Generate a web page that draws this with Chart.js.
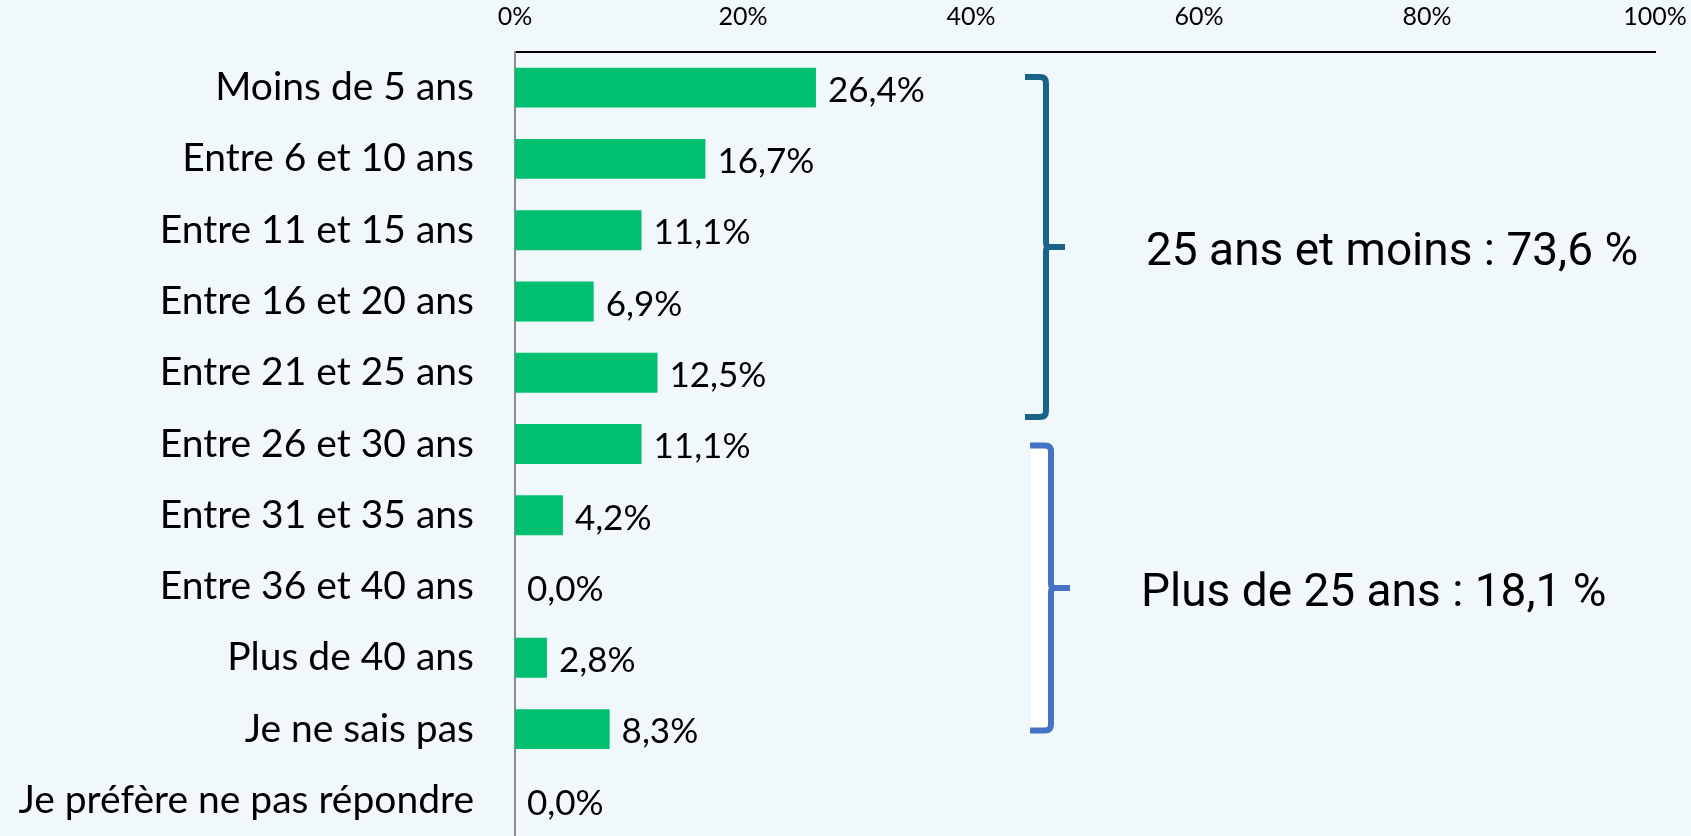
<!DOCTYPE html>
<html lang="fr">
<head>
<meta charset="utf-8">
<title>Ancienneté</title>
<script src="https://cdn.jsdelivr.net/npm/chart.js"></script>
<style>
    html, body { margin: 0; padding: 0; background: #F1F8FC; overflow: hidden; }
    #wrap { width: 1691px; height: 836px; position: relative; }
</style>
</head>
<body>
<div id="wrap"><canvas id="ageChart"></canvas></div>

<script>
    // data
    const categories = ['Moins de 5 ans', 'Entre 6 et 10 ans', 'Entre 11 et 15 ans', 'Entre 16 et 20 ans',
        'Entre 21 et 25 ans', 'Entre 26 et 30 ans', 'Entre 31 et 35 ans', 'Entre 36 et 40 ans',
        'Plus de 40 ans', 'Je ne sais pas', 'Je préfère ne pas répondre'];
    const percents = [26.4, 16.7, 11.1, 6.9, 12.5, 11.1, 4.2, 0.0, 2.8, 8.3, 0.0];
    const xTicks = [0, 20, 40, 60, 80, 100];

    // bracket groups (first and last category index + label)
    const groupLabels = ['25 ans et moins : 73,6 %', 'Plus de 25 ans : 18,1 %'];
    const groupFirst = [0, 5];
    const groupLast = [4, 9];

    const fmt = v => v.toFixed(1).replace('.', ',') + '%';

    // value labels right of the bars
    const valueLabels = {
        id: 'valueLabels',
        afterDatasetsDraw(chart) {
            const ctx = chart.ctx;
            const meta = chart.getDatasetMeta(0);
            ctx.save();
            ctx.font = '35px Lato';
            ctx.fillStyle = '#000';
            ctx.textBaseline = 'middle';
            meta.data.forEach((bar, i) => {
                ctx.fillText(fmt(percents[i]), bar.x + 12, bar.y + 3);
            });
            ctx.restore();
        }
    };

    // curly brackets + group texts
    const brackets = {
        id: 'brackets',
        afterDraw(chart) {
            const ctx = chart.ctx;
            const y = chart.scales.y;
            const s = y.getPixelForValue(1) - y.getPixelForValue(0);
            const styles = [
                { color: '#1A6388', x: 1046, top: -0.15, bottom: 0.62, fill: null, textX: 1146 },
                { color: '#4472C4', x: 1051, top: 0.02, bottom: 0.02, fill: '#FFFFFF', textX: 1141 }
            ];
            groupLabels.forEach((label, g) => {
                const st = styles[g];
                const top = y.getPixelForValue(groupFirst[g]) + st.top * s;
                const bottom = y.getPixelForValue(groupLast[g]) + st.bottom * s;
                const mid = (top + bottom) / 2;
                const x = st.x;
                ctx.save();
                if (st.fill) {
                    ctx.fillStyle = st.fill;
                    ctx.fillRect(x - 20, top, 20, bottom - top);
                }
                ctx.strokeStyle = st.color;
                ctx.lineWidth = 6;
                ctx.lineCap = 'butt';
                ctx.beginPath();
                ctx.moveTo(x - 21, top);
                ctx.lineTo(x - 6, top);
                ctx.quadraticCurveTo(x, top, x, top + 6);
                ctx.lineTo(x, mid - 4);
                ctx.quadraticCurveTo(x, mid, x + 4, mid);
                ctx.lineTo(x + 19, mid);
                ctx.moveTo(x + 4, mid);
                ctx.quadraticCurveTo(x, mid, x, mid + 4);
                ctx.lineTo(x, bottom - 6);
                ctx.quadraticCurveTo(x, bottom, x - 6, bottom);
                ctx.lineTo(x - 21, bottom);
                ctx.stroke();

                ctx.fillStyle = '#000';
                ctx.font = '46px Roboto';
                ctx.textBaseline = 'middle';
                ctx.fillText(label, st.textX, mid + 7);
                ctx.restore();
            });
        }
    };

    new Chart(document.getElementById('ageChart'), {
        type: 'bar',
        data: {
            labels: categories,
            datasets: [{
                data: percents,
                backgroundColor: '#00C070',
                borderWidth: 0,
                barPercentage: 0.56,
                categoryPercentage: 1.0
            }]
        },
        options: {
            indexAxis: 'y',
            animation: false,
            responsive: true,
            maintainAspectRatio: false,
            layout: { padding: { left: 0, right: 36, top: 0, bottom: 0 } },
            plugins: {
                legend: { display: false },
                tooltip: { enabled: false }
            },
            scales: {
                x: {
                    position: 'top',
                    min: 0,
                    max: 100,
                    afterBuildTicks: (axis) => { axis.ticks = xTicks.map(v => ({ value: v })); },
                    afterFit: (axis) => {
                        axis.height = 52;
                        axis.paddingLeft = 0;
                        axis.paddingRight = 0;
                    },
                    grid: { display: false },
                    border: { display: true, color: '#000', width: 2 },
                    ticks: {
                        callback: v => v + '%',
                        color: '#000',
                        font: { family: 'Lato', size: 25 },
                        padding: 12,
                        maxRotation: 0
                    }
                },
                y: {
                    afterFit: (axis) => {
                        axis.width = 515;
                        axis.paddingTop = 0;
                        axis.paddingBottom = 0;
                    },
                    grid: { display: false },
                    border: { display: true, color: '#8C8C8C', width: 2 },
                    ticks: {
                        color: '#000',
                        font: { family: 'Lato', size: 39 },
                        padding: 33
                    }
                }
            }
        },
        plugins: [valueLabels, brackets]
    });
</script>
</body>
</html>
